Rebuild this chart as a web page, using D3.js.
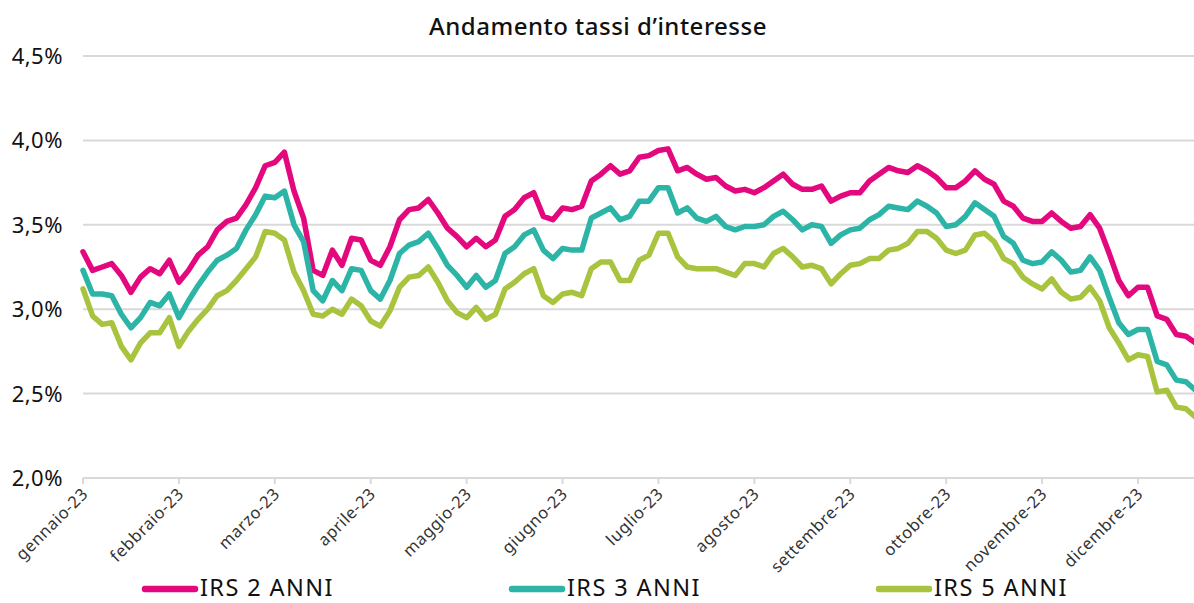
<!DOCTYPE html>
<html>
<head>
<meta charset="utf-8">
<script src="https://cdn.jsdelivr.net/npm/d3@7"></script>
<style>
  html, body { margin: 0; padding: 0; background: #fff; }
  #chart { width: 1194px; height: 603px; overflow: hidden; }
  text { font-family: "Noto Sans", "Open Sans", sans-serif; }
</style>
</head>
<body>
<div id="chart"></div>
<script>
// Month tick labels (one tick per month, ten samples per month)
const months = ['gennaio-23', 'febbraio-23', 'marzo-23', 'aprile-23', 'maggio-23', 'giugno-23',
  'luglio-23', 'agosto-23', 'settembre-23', 'ottobre-23', 'novembre-23', 'dicembre-23'];

const yTicks = [2.0, 2.5, 3.0, 3.5, 4.0, 4.5];

// IRS rates in %
const irs2 = [
  3.34, 3.23, 3.25, 3.27, 3.20, 3.10, 3.19, 3.24, 3.21, 3.29,
  3.16, 3.23, 3.32, 3.37, 3.47, 3.52, 3.54, 3.62, 3.72, 3.85,
  3.87, 3.93, 3.70, 3.54, 3.23, 3.20, 3.35, 3.26, 3.42, 3.41,
  3.29, 3.26, 3.37, 3.53, 3.59, 3.60, 3.65, 3.57, 3.48, 3.43,
  3.37, 3.42, 3.37, 3.41, 3.55, 3.59, 3.66, 3.69, 3.55, 3.53,
  3.60, 3.59, 3.61, 3.76, 3.80, 3.85, 3.80, 3.82, 3.90, 3.91,
  3.94, 3.95, 3.82, 3.84, 3.80, 3.77, 3.78, 3.73, 3.70, 3.71,
  3.69, 3.72, 3.76, 3.80, 3.74, 3.71, 3.71, 3.73, 3.64, 3.67,
  3.69, 3.69, 3.76, 3.80, 3.84, 3.82, 3.81, 3.85, 3.82, 3.78,
  3.72, 3.72, 3.76, 3.82, 3.77, 3.74, 3.64, 3.61, 3.54, 3.52,
  3.52, 3.57, 3.52, 3.48, 3.49, 3.56, 3.48, 3.33, 3.17, 3.08,
  3.13, 3.13, 2.96, 2.94, 2.85, 2.84, 2.80
];
const irs3 = [
  3.23, 3.09, 3.09, 3.08, 2.97, 2.89, 2.95, 3.04, 3.02, 3.09,
  2.95, 3.05, 3.14, 3.22, 3.29, 3.32, 3.36, 3.47, 3.56, 3.67,
  3.66, 3.70, 3.50, 3.40, 3.11, 3.05, 3.17, 3.11, 3.24, 3.23,
  3.11, 3.06, 3.17, 3.33, 3.38, 3.40, 3.45, 3.36, 3.26, 3.20,
  3.13, 3.20, 3.13, 3.17, 3.33, 3.37, 3.44, 3.47, 3.35, 3.30,
  3.36, 3.35, 3.35, 3.54, 3.57, 3.60, 3.53, 3.55, 3.64, 3.64,
  3.72, 3.72, 3.57, 3.60, 3.54, 3.52, 3.55, 3.49, 3.47, 3.49,
  3.49, 3.50, 3.55, 3.58, 3.53, 3.47, 3.50, 3.49, 3.39, 3.44,
  3.47, 3.48, 3.53, 3.56, 3.61, 3.60, 3.59, 3.64, 3.61, 3.57,
  3.49, 3.50, 3.55, 3.63, 3.59, 3.55, 3.43, 3.39, 3.29, 3.27,
  3.28, 3.34, 3.29, 3.22, 3.23, 3.31, 3.23, 3.07, 2.92, 2.85,
  2.88, 2.88, 2.69, 2.67, 2.58, 2.57, 2.52
];
const irs5 = [
  3.12, 2.96, 2.91, 2.92, 2.78, 2.70, 2.80, 2.86, 2.86, 2.95,
  2.78, 2.87, 2.94, 3.00, 3.08, 3.11, 3.17, 3.24, 3.31, 3.46,
  3.45, 3.41, 3.22, 3.11, 2.97, 2.96, 3.00, 2.97, 3.06, 3.02,
  2.93, 2.90, 2.99, 3.13, 3.19, 3.20, 3.25, 3.16, 3.05, 2.98,
  2.95, 3.01, 2.94, 2.97, 3.12, 3.16, 3.21, 3.24, 3.08, 3.04,
  3.09, 3.10, 3.08, 3.24, 3.28, 3.28, 3.17, 3.17, 3.29, 3.32,
  3.45, 3.45, 3.31, 3.25, 3.24, 3.24, 3.24, 3.22, 3.20, 3.27,
  3.27, 3.25, 3.33, 3.36, 3.31, 3.25, 3.26, 3.24, 3.15, 3.21,
  3.26, 3.27, 3.30, 3.30, 3.35, 3.36, 3.39, 3.46, 3.46, 3.42,
  3.35, 3.33, 3.35, 3.44, 3.45, 3.40, 3.30, 3.27, 3.19, 3.15,
  3.12, 3.18, 3.10, 3.06, 3.07, 3.13, 3.05, 2.89, 2.80, 2.70,
  2.73, 2.72, 2.51, 2.52, 2.42, 2.41, 2.36
];

const seriesNames = ['IRS 2 ANNI', 'IRS 3 ANNI', 'IRS 5 ANNI'];
const seriesColors = ['#e4087f', '#2cb5a6', '#a8c43f'];
const seriesData = [irs2, irs3, irs5];

const W = 1194, H = 603;
const svg = d3.select('#chart').append('svg')
  .attr('width', W).attr('height', H)
  .attr('viewBox', `0 0 ${W} ${H}`);

// month index → x (ticks are evenly spaced per month)
const x = d3.scaleLinear().domain([0, 11]).range([83, 1138]);
const y = d3.scaleLinear().domain([2, 4.5]).range([478, 56]);
const fmt = v => v.toFixed(1).replace('.', ',') + '%';

// title
svg.append('text')
  .attr('x', 598).attr('y', 35)
  .attr('text-anchor', 'middle')
  .attr('font-size', 24).attr('font-weight', 500)
  .attr('letter-spacing', 0.5)
  .attr('fill', '#111')
  .text('Andamento tassi d’interesse');

// gridlines + y labels
const yAxis = svg.append('g');
yAxis.selectAll('line').data(yTicks.slice(1)).enter().append('line')
  .attr('x1', 83).attr('x2', W)
  .attr('y1', d => y(d)).attr('y2', d => y(d))
  .attr('stroke', '#d9d9d9').attr('stroke-width', 2);
yAxis.selectAll('text').data(yTicks).enter().append('text')
  .attr('x', 63).attr('y', d => y(d))
  .attr('dy', '0.36em')
  .attr('text-anchor', 'end')
  .attr('font-size', 22)
  .attr('letter-spacing', 0.5)
  .attr('fill', '#111')
  .text(fmt);

// x axis
const xAxis = svg.append('g').attr('transform', `translate(0,${y(2)})`);
xAxis.append('line')
  .attr('x1', 83).attr('x2', W)
  .attr('stroke', '#d9d9d9').attr('stroke-width', 2);
xAxis.selectAll('.tick').data(months).enter().append('line')
  .attr('x1', (d, i) => x(i)).attr('x2', (d, i) => x(i))
  .attr('y1', 0).attr('y2', 6)
  .attr('stroke', '#d9d9d9').attr('stroke-width', 2);
xAxis.selectAll('text').data(months).enter().append('text')
  .attr('transform', (d, i) => `translate(${x(i) + 6},${17}) rotate(-45)`)
  .attr('text-anchor', 'end')
  .attr('font-size', 16.5)
  .attr('letter-spacing', 0.6)
  .attr('fill', '#333')
  .text(d => d);

// lines
const line = d3.line()
  .x((d, i) => x(i / 10))
  .y(d => y(d));

svg.append('g').selectAll('path').data(seriesData).enter().append('path')
  .attr('d', line)
  .attr('fill', 'none')
  .attr('stroke', (d, i) => seriesColors[i])
  .attr('stroke-width', 5.5)
  .attr('stroke-linejoin', 'round')
  .attr('stroke-linecap', 'round');

// legend
const lg = svg.append('g').selectAll('g').data(seriesNames).enter().append('g')
  .attr('transform', (d, i) => `translate(${145 + i * 367},589)`);
lg.append('line')
  .attr('x1', 0).attr('x2', 50)
  .attr('stroke', (d, i) => seriesColors[i])
  .attr('stroke-width', 6.5)
  .attr('stroke-linecap', 'round');
lg.append('text')
  .attr('x', 55).attr('y', 7)
  .attr('font-size', 23.5)
  .attr('letter-spacing', 1.4)
  .attr('fill', '#111')
  .text(d => d);
</script>
</body>
</html>
